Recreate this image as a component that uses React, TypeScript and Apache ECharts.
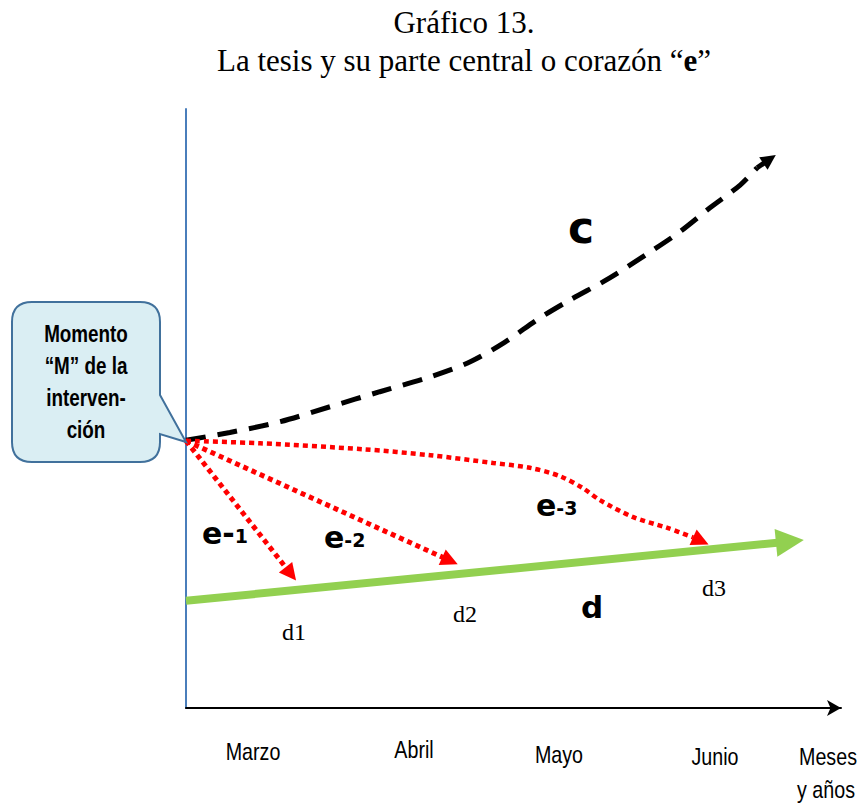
import React, { useEffect, useRef } from "react";
import * as echarts from "echarts";

// ---- data (axis units: x 0..100 along the time axis, y 0..100 up the vertical axis) ----
const monthLabels = ["Marzo", "Abril", "Mayo", "Junio"];
const axisTitleLines = ["Meses", "y años"];
const calloutLines = ["Momento", "“M” de la", "interven-", "ción"];

// curve "c" (black dashed)
const cX = [0, 6.7, 14.4, 22.0, 29.6, 37.3, 43.4, 48.7, 54.0, 58.6, 64.7, 70.8, 75.4, 80.0, 84.6, 87.2];
const cY = [44.7, 46.0, 47.8, 50.3, 52.8, 55.3, 57.8, 61.1, 65.1, 68.1, 71.8, 76.1, 79.5, 83.5, 87.3, 90.2];
const cHead = [89.1, 91.6];

// line "d" (green)
const dStart = [0, 17.9];
const dHead = [92.2, 27.8];

// e-1, e-2 straight dotted arrows
const e1Start = [0, 44.6];
const e1Head = [16.0, 22.4];
const e2Start = [0, 44.6];
const e2Head = [40.3, 24.6];

// e-3 curved dotted arrow
const e3X = [0, 11.3, 27.0, 37.3, 46.9, 52.5, 57.1, 60.6, 63.2, 68.2, 73.4, 77.4];
const e3Y = [44.6, 44.2, 43.2, 42.2, 40.9, 40.1, 38.7, 36.7, 34.7, 31.9, 30.1, 28.5];
const e3Head = [78.6, 27.9];

const zip = (xs: number[], ys: number[]) => xs.map((x, i) => [x, ys[i]]);

const CALLOUT_D =
  "M 32 302 L 140 302 Q 160 302 160 322 L 160 395 L 186 442 L 160 434 L 160 442 Q 160 462 140 462 L 32 462 Q 12 462 12 442 L 12 322 Q 12 302 32 302 Z";

let registered = false;

export default function App() {
  const ref = useRef<HTMLDivElement>(null);

  useEffect(() => {
    document.body.style.margin = "0";
    if (!registered) {
      echarts.graphic.registerShape("callout", echarts.graphic.extendPath(CALLOUT_D, {}));
      registered = true;
    }
    const chart = echarts.init(ref.current!, null, { renderer: "svg" });

    const sans = '"Liberation Sans", Arial, sans-serif';
    const serif = '"Liberation Serif", "Times New Roman", serif';
    const heavy = '"DejaVu Sans", sans-serif';

    const monthPos = [
      [253, 752],
      [414, 750],
      [559, 755],
      [715, 757],
    ];
    const axisTitlePos = [
      [828, 757],
      [826, 790],
    ];
    const calloutY = [334, 366, 398, 430];

    const narrowText = (text: string, x: number, y: number, size: number, weight = "normal") => ({
      type: "text",
      x,
      y,
      scaleX: 0.82,
      z: 100,
      style: {
        text,
        fontFamily: sans,
        fontSize: size,
        fontWeight: weight,
        fill: "#000",
        align: "center",
        verticalAlign: "middle",
      },
    });

    const eLabel = (text: string, x: number, y: number) => ({
      type: "text",
      x,
      y,
      z: 100,
      style: {
        text,
        align: "left",
        verticalAlign: "middle",
        rich: {
          big: { fontFamily: heavy, fontWeight: "bold", fontSize: 30, fill: "#000" },
          small: { fontFamily: heavy, fontWeight: "bold", fontSize: 19, fill: "#000", padding: [6, 0, 0, 0] },
        },
      },
    });

    const option: any = {
      animation: false,
      backgroundColor: "#fff",
      grid: { left: 186, right: 21, top: 109, bottom: 97 },
      xAxis: {
        type: "value",
        min: 0,
        max: 100,
        axisLine: {
          show: true,
          onZero: false,
          symbol: ["none", "arrow"],
          symbolSize: [12, 14],
          lineStyle: { color: "#000", width: 2 },
        },
        axisTick: { show: false },
        axisLabel: { show: false },
        splitLine: { show: false },
      },
      yAxis: {
        type: "value",
        min: 0,
        max: 100,
        axisLine: { show: true, onZero: false, lineStyle: { color: "#4a7ebb", width: 2 } },
        axisTick: { show: false },
        axisLabel: { show: false },
        splitLine: { show: false },
      },
      series: [
        {
          type: "lines",
          coordinateSystem: "cartesian2d",
          symbol: ["none", "triangle"],
          symbolSize: 28,
          lineStyle: { color: "#92d050", width: 8, opacity: 1, curveness: 0 },
          data: [{ coords: [dStart, dHead] }],
          z: 2,
        },
        {
          type: "line",
          data: zip(cX, cY),
          smooth: 0.3,
          showSymbol: false,
          symbol: "none",
          lineStyle: { color: "#000", width: 5, type: [20, 12], cap: "butt" },
          z: 3,
        },
        {
          type: "lines",
          coordinateSystem: "cartesian2d",
          symbol: ["none", "triangle"],
          symbolSize: 15,
          lineStyle: { color: "#000", width: 5, opacity: 1, curveness: 0 },
          data: [{ coords: [[cX[cX.length - 1], cY[cY.length - 1]], cHead] }],
          z: 3,
        },
        {
          type: "line",
          data: zip(e3X, e3Y),
          smooth: 0.3,
          showSymbol: false,
          symbol: "none",
          lineStyle: { color: "#ff0000", width: 4.5, type: [5, 4], cap: "butt" },
          z: 4,
        },
        {
          type: "lines",
          coordinateSystem: "cartesian2d",
          symbol: ["none", "triangle"],
          symbolSize: 17,
          lineStyle: { color: "#ff0000", width: 5, type: [5, 4], opacity: 1, curveness: 0 },
          data: [
            { coords: [e1Start, e1Head] },
            { coords: [e2Start, e2Head] },
            { coords: [[e3X[e3X.length - 1], e3Y[e3Y.length - 1]], e3Head] },
          ],
          z: 4,
        },
      ],
      graphic: [
        {
          type: "text",
          x: 464,
          y: 22,
          style: {
            text: "Gráfico 13.",
            fontFamily: serif,
            fontSize: 31,
            fill: "#000",
            align: "center",
            verticalAlign: "middle",
          },
        },
        {
          type: "text",
          x: 464,
          y: 60,
          style: {
            text: "{a|La tesis y su parte central o corazón “}{b|e}{a|”}",
            align: "center",
            verticalAlign: "middle",
            rich: {
              a: { fontFamily: serif, fontSize: 31, fill: "#000" },
              b: { fontFamily: serif, fontSize: 31, fontWeight: "bold", fill: "#000" },
            },
          },
        },
        {
          type: "callout",
          x: 0,
          y: 0,
          z: 50,
          style: { fill: "#daeef3", stroke: "#41719c", lineWidth: 2 },
        },
        ...calloutLines.map((t, i) => narrowText(t, 86, calloutY[i], 23, "bold")),
        ...monthLabels.map((t, i) => narrowText(t, monthPos[i][0], monthPos[i][1], 24)),
        ...axisTitleLines.map((t, i) => narrowText(t, axisTitlePos[i][0], axisTitlePos[i][1], 24)),
        {
          type: "text",
          x: 581,
          y: 227,
          z: 100,
          style: { text: "c", fontFamily: heavy, fontWeight: "bold", fontSize: 44, fill: "#000", align: "center", verticalAlign: "middle" },
        },
        {
          type: "text",
          x: 592,
          y: 607,
          z: 100,
          style: { text: "d", fontFamily: heavy, fontWeight: "bold", fontSize: 31, fill: "#000", align: "center", verticalAlign: "middle" },
        },
        eLabel("{big|e-}{small|1}", 202, 533),
        eLabel("{big|e}{small|-2}", 324, 537),
        eLabel("{big|e}{small|-3}", 536, 505),
        ...[
          ["d1", 294, 632],
          ["d2", 465, 614],
          ["d3", 714, 588],
        ].map(([t, x, y]) => ({
          type: "text",
          x,
          y,
          z: 100,
          style: { text: t, fontFamily: serif, fontSize: 24, fill: "#000", align: "center", verticalAlign: "middle" },
        })),
      ],
    };

    chart.setOption(option);
    return () => chart.dispose();
  }, []);

  return <div ref={ref} style={{ width: 862, height: 805 }} />;
}
